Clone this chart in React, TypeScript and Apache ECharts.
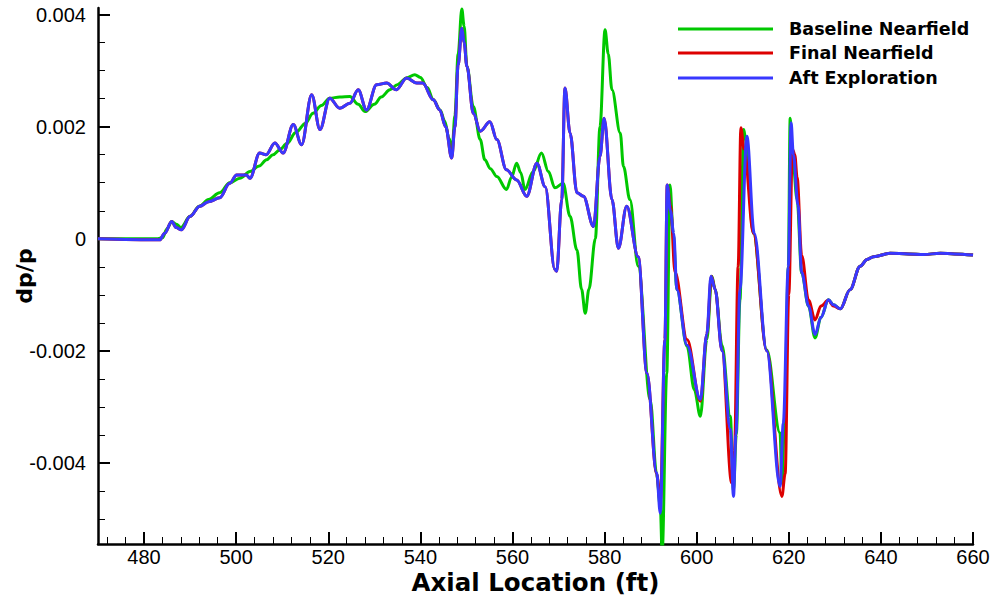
import React, { useEffect, useRef } from 'react';
import * as echarts from 'echarts';

// ---- Data (x in ft, y in dp/p) ----
const baselineX = [470, 483, 484, 485, 486, 487, 488, 490, 492, 494, 496.4, 498.6, 500.8, 503, 505, 506.6, 508, 509.5, 511, 513, 515, 516.7, 518.5, 520.3, 522.5, 524.7, 526.5, 528, 530, 531.5, 533.4, 535, 537, 538.8, 540, 541.5, 542.8, 544.3, 545.3, 546.2, 546.9, 547.5, 548.2, 549, 549.5, 550.1, 551.5, 553, 554, 555.2, 556.6, 558.7, 559.8, 560.9, 561.8, 562.7, 564.5, 566.3, 567.8, 569.2, 571, 572.5, 574, 575, 575.8, 576.6, 578, 579, 580.1, 580.8, 581.6, 583.4, 584.1, 585.5, 587.3, 589.9, 591.3, 592.1, 592.5, 593.5, 594.2, 594.9, 595.7, 597.9, 599.5, 600.8, 602.2, 603.3, 604, 605.5, 607.3, 608, 608.6, 609.4, 610.2, 610.6, 612.3, 615.2, 618.1, 618.5, 619.1, 619.9, 620.3, 620.8, 621.8, 622.8, 624.3, 625.7, 627, 628.6, 629.7, 631.2, 633.3, 635.5, 637, 638.4, 642, 646, 649.3, 652.9, 656, 660];
const baselineY = [0, 0, 0.00002, 0.00018, 0.00031, 0.00026, 0.0002, 0.0004, 0.00058, 0.0007, 0.00082, 0.001, 0.00108, 0.0012, 0.0013, 0.00141, 0.0015, 0.00159, 0.0017, 0.0019, 0.00206, 0.00224, 0.00238, 0.00251, 0.00253, 0.00254, 0.0024, 0.00227, 0.0024, 0.00253, 0.00266, 0.00275, 0.00287, 0.00293, 0.00288, 0.0027, 0.00248, 0.0023, 0.0021, 0.0018, 0.0016, 0.0022, 0.0033, 0.0041, 0.0038, 0.00308, 0.00236, 0.00177, 0.00141, 0.00125, 0.00111, 0.00088, 0.0011, 0.00135, 0.00118, 0.00088, 0.0012, 0.00153, 0.0012, 0.00091, 0.00099, 0.0004, -0.0002, -0.0009, -0.00133, -0.0009, 0, 0.002, 0.00373, 0.0033, 0.00266, 0.00189, 0.00129, 0.0007, -0.00049, -0.00287, -0.0042, -0.00478, -0.0056, -0.0024, 0.00096, 0.0001, -0.00091, -0.00192, -0.0027, -0.00317, -0.0018, -0.00067, -0.0009, -0.0019, -0.00317, -0.0045, -0.0035, -0.00109, 0.00195, 0.0018, 0.0001, -0.00198, -0.00347, -0.00436, -0.0032, -0.00049, 0.00215, 0.0015, 0.0007, -0.00061, -0.00121, -0.00177, -0.0014, -0.00109, -0.00118, -0.00125, -0.00091, -0.00049, -0.00037, -0.00032, -0.00026, -0.00027, -0.00028, -0.00026, -0.00027, -0.00029];

const finalX = [470, 483.4, 484.5, 486, 487, 488.1, 490, 492.1, 494, 496.4, 498.6, 500.1, 502.2, 503, 505.1, 506.5, 508.4, 510.2, 512.4, 514.2, 516.4, 518.2, 520.3, 522.5, 524.7, 526.5, 528.3, 530.5, 532.7, 534.8, 537, 539.2, 540.5, 542.8, 544.2, 545.5, 546.8, 547.5, 548.2, 549, 549.5, 550.1, 551.5, 553, 555.1, 556.6, 558.7, 560.9, 563.1, 565.3, 567.1, 569.2, 569.6, 570.7, 571.4, 572.5, 574, 575.4, 577.6, 579, 579.9, 581.6, 583, 584.8, 587.3, 589.2, 591.3, 592.1, 593.1, 593.6, 594.3, 595.3, 597.9, 600.8, 602.2, 603.2, 604, 605.5, 607.6, 608.2, 609, 609.6, 610.3, 612.3, 615.2, 618.5, 619.2, 620, 620.8, 621.3, 621.8, 622.8, 624.3, 625.7, 627, 628.6, 629.7, 631.2, 633.3, 635.5, 637, 638.4, 642, 646, 649.3, 652.9, 656, 660];
const finalY = [0, -0.00002, 0.0001, 0.00031, 0.0002, 0.00016, 0.0004, 0.00058, 0.00066, 0.00073, 0.00099, 0.00114, 0.00114, 0.00108, 0.00153, 0.0015, 0.00171, 0.00153, 0.00204, 0.00168, 0.00257, 0.00195, 0.00251, 0.00233, 0.00242, 0.00266, 0.0023, 0.00275, 0.00278, 0.00266, 0.00287, 0.00278, 0.00278, 0.00248, 0.0023, 0.002, 0.00144, 0.002, 0.0031, 0.00376, 0.0035, 0.00308, 0.00224, 0.00192, 0.00209, 0.00177, 0.00123, 0.00105, 0.00076, 0.00135, 0.00093, -0.00055, -0.00058, 0.0007, 0.00269, 0.00189, 0.00082, 0.00076, 0.00022, 0.00147, 0.00215, 0.0007, -0.00017, 0.00058, -0.00032, -0.0024, -0.0042, -0.0047, -0.0018, 0.00096, 0.0006, -0.0006, -0.0018, -0.0029, -0.0017, -0.00067, -0.0009, -0.002, -0.00436, -0.0038, -0.0005, 0.00198, 0.0016, 0.0001, -0.002, -0.0046, -0.0042, -0.001, 0.0016, 0.0015, 0.0011, -0.0003, -0.0011, -0.00145, -0.0012, -0.0011, -0.0012, -0.00125, -0.00091, -0.00049, -0.00037, -0.00032, -0.00026, -0.00027, -0.00028, -0.00026, -0.00027, -0.00029];

const aftX = [470, 483.4, 484.5, 486, 487, 488.1, 490, 492.1, 494, 496.4, 498.6, 500.1, 502.2, 503, 505.1, 506.5, 508.4, 510.2, 512.4, 514.2, 516.4, 518.2, 520.3, 522.5, 524.7, 526.5, 528.3, 530.5, 532.7, 534.8, 537, 539.2, 540.5, 542.8, 544.2, 545.5, 546.8, 547.5, 548.2, 549, 549.5, 550.1, 551.5, 553, 555.1, 556.6, 558.7, 560.9, 563.1, 565.3, 567.1, 569.2, 569.6, 570.7, 571.4, 572.5, 574, 575.4, 577.6, 579, 579.9, 581.6, 583, 584.8, 587.3, 589.2, 591.3, 592.1, 593.1, 593.6, 594.3, 595, 595.7, 597.9, 600.8, 602.2, 603.1, 604, 605.5, 607.3, 608, 608.5, 609.4, 610.9, 612.5, 615.2, 618.1, 618.8, 619.9, 620.5, 621, 622, 622.8, 624.3, 625.7, 627, 628.6, 629.7, 631.2, 633.3, 635.5, 637, 638.4, 642, 646, 649.3, 652.9, 656, 660];
const aftY = [0, -0.00002, 0.0001, 0.00031, 0.0002, 0.00016, 0.0004, 0.00058, 0.00066, 0.00073, 0.00099, 0.00114, 0.00114, 0.00108, 0.00153, 0.0015, 0.00171, 0.00153, 0.00204, 0.00168, 0.00257, 0.00195, 0.00251, 0.00233, 0.00242, 0.00266, 0.0023, 0.00275, 0.00278, 0.00266, 0.00287, 0.00278, 0.00278, 0.00248, 0.0023, 0.002, 0.00144, 0.002, 0.0031, 0.00376, 0.0035, 0.00308, 0.00224, 0.00192, 0.00209, 0.00177, 0.00123, 0.00105, 0.00076, 0.00135, 0.00093, -0.00055, -0.00058, 0.0007, 0.00269, 0.00189, 0.00082, 0.00076, 0.00022, 0.00147, 0.00215, 0.0007, -0.00017, 0.00058, -0.00032, -0.0024, -0.00418, -0.0049, -0.0018, 0.00096, 0.0005, 0.0001, -0.00091, -0.0019, -0.00287, -0.0017, -0.00067, -0.0009, -0.002, -0.0034, -0.0046, -0.0035, -0.0009, 0.00183, 0.0001, -0.002, -0.00442, -0.0033, -0.0005, 0.00207, 0.0015, 0.0006, -0.0006, -0.0012, -0.00171, -0.0014, -0.00109, -0.00118, -0.00125, -0.00091, -0.00049, -0.00037, -0.00032, -0.00026, -0.00027, -0.00028, -0.00026, -0.00027, -0.00029];

const seriesNames = ['Baseline Nearfield', 'Final Nearfield', 'Aft Exploration'];
const seriesColors = ['#00c800', '#dd0000', '#3838ff'];

// ---- Axes ----
const xMajorTicks = [480, 500, 520, 540, 560, 580, 600, 620, 640, 660];
const xMinorTicks = [472, 476, 484, 488, 492, 496, 504, 508, 512, 516, 524, 528, 532, 536, 544, 548, 552, 556, 564, 568, 572, 576, 584, 588, 592, 596, 604, 608, 612, 616, 624, 628, 632, 636, 644, 648, 652, 656];
const yMajorTicks = [-0.004, -0.002, 0, 0.002, 0.004];
const yMinorTicks = [-0.005, -0.0045, -0.0035, -0.003, -0.0025, -0.0015, -0.001, -0.0005, 0.0005, 0.001, 0.0015, 0.0025, 0.003, 0.0035];
const xMin = 470, xMax = 660;
const yMin = -0.00545, yMax = 0.00412;

const pairs = (xs: number[], ys: number[]) => xs.map((x, i) => [x, ys[i]]);

export default function App() {
  const ref = useRef<HTMLDivElement>(null);
  useEffect(() => {
    if (!ref.current) return;
    const chart = echarts.init(ref.current, null, { renderer: 'svg' });
    const axisLineStyle = { color: '#000', width: 2.5 };
    const labelFont = { color: '#000', fontFamily: 'Liberation Sans, Arial, sans-serif', fontSize: 20 };
    const boldFont = 'DejaVu Sans, sans-serif';
    const legendRows = [29, 53, 78];
    chart.setOption({
      animation: false,
      backgroundColor: '#fff',
      grid: { left: 98, right: 19, top: 8, bottom: 53, containLabel: false, outerBoundsMode: 'none' },
      xAxis: [
        {
          type: 'value', min: xMin, max: xMax,
          name: 'Axial Location (ft)', nameLocation: 'middle', nameGap: 26, nameMoveOverlap: false,
          nameTextStyle: { fontFamily: boldFont, fontWeight: 'bold', fontSize: 24.5, lineHeight: 25, color: '#000' },
          axisLine: { show: true, onZero: false, lineStyle: axisLineStyle },
          axisTick: { show: true, inside: true, length: 12, lineStyle: { color: '#000', width: 2 }, customValues: xMajorTicks },
          axisLabel: { show: true, margin: 4, lineHeight: 17, customValues: xMajorTicks, ...labelFont },
          splitLine: { show: false },
        },
        {
          type: 'value', min: xMin, max: xMax, position: 'bottom',
          axisLine: { show: false, onZero: false },
          axisTick: { show: true, inside: true, length: 7, lineStyle: { color: '#000', width: 1 }, customValues: xMinorTicks },
          axisLabel: { show: false },
          splitLine: { show: false },
        },
      ],
      yAxis: [
        {
          type: 'value', min: yMin, max: yMax,
          name: 'dp/p', nameLocation: 'middle', nameGap: 63, nameRotate: 90, nameMoveOverlap: false,
          nameTextStyle: { fontFamily: boldFont, fontWeight: 'bold', fontSize: 22, color: '#000' },
          axisLine: { show: true, onZero: false, lineStyle: axisLineStyle },
          axisTick: { show: true, inside: true, length: 12, lineStyle: { color: '#000', width: 2 }, customValues: yMajorTicks },
          axisLabel: {
            show: true, margin: 12, customValues: yMajorTicks, ...labelFont,
            formatter: (v: number) => (Math.abs(v) < 1e-12 ? '0' : v.toFixed(3)),
          },
          splitLine: { show: false },
        },
        {
          type: 'value', min: yMin, max: yMax, position: 'left',
          axisLine: { show: false, onZero: false },
          axisTick: { show: true, inside: true, length: 7, lineStyle: { color: '#000', width: 1 }, customValues: yMinorTicks },
          axisLabel: { show: false },
          splitLine: { show: false },
        },
      ],
      series: [
        { name: seriesNames[0], type: 'line', data: pairs(baselineX, baselineY) },
        { name: seriesNames[1], type: 'line', data: pairs(finalX, finalY) },
        { name: seriesNames[2], type: 'line', data: pairs(aftX, aftY) },
      ].map((s, i) => ({
        ...s,
        xAxisIndex: 0, yAxisIndex: 0,
        showSymbol: false, symbol: 'none', clip: true,
        lineStyle: { color: seriesColors[i], width: 3 },
        itemStyle: { color: seriesColors[i] },
        smooth: 0.35, smoothMonotone: 'x',
      })),
      graphic: seriesNames.flatMap((name, i) => [
        {
          type: 'line', shape: { x1: 678, y1: legendRows[i], x2: 773, y2: legendRows[i] },
          style: { stroke: seriesColors[i], lineWidth: 3 },
        },
        {
          type: 'text', x: 789, y: legendRows[i],
          style: { text: name, fill: '#000', font: `bold 17.5px ${boldFont}`, textVerticalAlign: 'middle', verticalAlign: 'middle' },
        },
      ]),
    });
    return () => chart.dispose();
  }, []);
  return <div ref={ref} style={{ position: 'fixed', left: 0, top: 0, width: 992, height: 597, background: '#fff' }} />;
}
